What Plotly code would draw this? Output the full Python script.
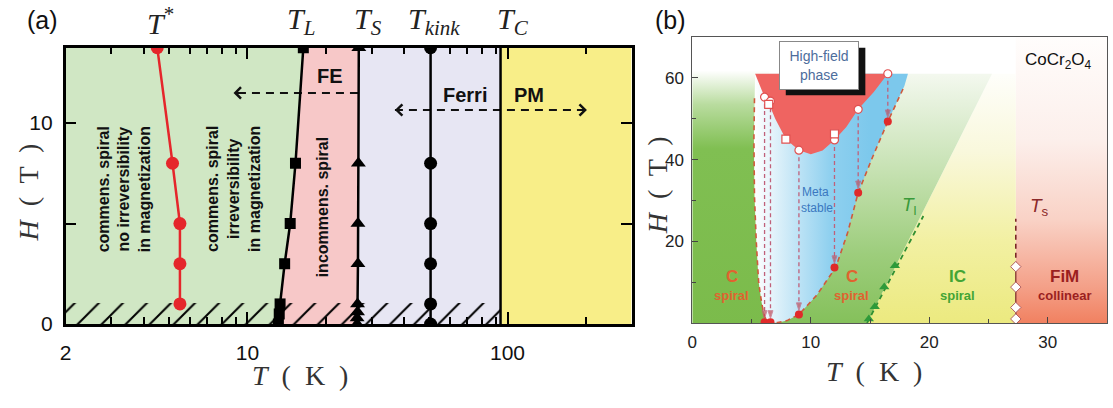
import numpy as np
import plotly.graph_objects as go

W, HT = 1113, 408

# ---------------- (a) CoCr2O4 H-T diagram, log temperature axis ----------------
tstar_T = [5.5, 5.5, 5.5, 5.15, 4.5]
tstar_H = [1, 3, 5, 8, 13.75]
tL_T = [13.15, 13.25, 13.35, 13.9, 14.6, 15.3, 16.4]
tL_H = [0, 0.5, 1, 3, 5, 8, 13.75]
tS_T = [26.4, 26.4, 26.5, 26.5, 26.6, 26.6, 26.7, 26.8]
tS_H = [0, 0.3, 0.6, 1, 3, 5, 8, 13.75]
tK_T = [50.6, 50.6, 50.6, 50.6, 50.6, 50.6]
tK_H = [0, 1, 3, 5, 8, 13.75]
tC_T = 94
a_T_range = [2, 300]
a_H_range = [0, 13.75]
hatch_top = 1.05
a_xtick_vals = [2, 10, 100]
a_xtick_text = ["2", "10", "100"]
a_xminor = [3, 4, 5, 6, 7, 8, 9, 20, 30, 40, 50, 60, 70, 80, 90, 200, 300]
a_ytick_vals = [0, 5, 10]
a_ytick_text = ["0", "", "10"]
fe_arrow_T = [26.6, 8.84]
fe_arrow_H = 11.5
pm_arrow_T = [36.9, 202]
pm_arrow_H = 10.65

# ---------------- (b) pulsed-field diagram, linear axes ----------------
b_T_range = [0, 35]
b_H_range = [0, 70]
tl_tri_T = [14.9, 15.4, 16.2, 17.1]
tl_tri_H = [1, 4, 8.8, 14]
tl_line_T = [14.75, 19.5]
tl_line_H = [0, 26.2]
tl_edge_T = [14.75, 25.3]
ts_T = 27.3
ts_pts_H = [1, 3.8, 8.8, 13.8]
ts_dash_H = [13.8, 25.5]
color_top = 61
hf_T = [5.3, 5.8, 6.1, 6.5, 7.0, 7.9, 9.0, 10.0, 11.0, 12.0, 13.0, 14.0, 15.3, 16.5]
hf_H = [61, 57.5, 55.3, 53.5, 50.0, 45.0, 42.3, 41.3, 42.2, 44.8, 48.0, 52.3, 56.5, 61.0]
ms_T = [5.25, 5.2, 5.25, 5.4, 5.6, 5.85, 6.1, 6.5, 7.2, 8.0, 9.0, 10.5, 12.1, 13.1, 14.0, 15.2, 16.5, 17.9]
ms_H = [55, 45, 31, 20, 10, 5, 1.5, 0.1, 0.1, 0.6, 2.1, 6.8, 13.6, 22, 31.9, 40.5, 49.3, 58]
ms_top_T = [5.3, 18.2]
drop_T = [6.1, 6.6, 9.0, 12.0, 14.0, 16.5]
drop_top = [55.3, 54.3, 42.3, 44.8, 52.3, 61.0]
drop_bot = [0.2, 0.2, 2.1, 13.6, 31.9, 49.3]
sq_T = [6.45, 7.9, 12.0]
sq_H = [53.5, 45.0, 46.3]

fig = go.Figure()


def px(x, y):
    return x / W, 1 - y / HT


def poly(xs, ys, color, xa="x", ya="y", **kw):
    fig.add_trace(go.Scatter(x=xs, y=ys, fill="toself", fillcolor=color, mode="lines",
                             line=dict(width=0), hoverinfo="skip", showlegend=False,
                             xaxis=xa, yaxis=ya, **kw))


def line(xs, ys, color, width, xa="x", ya="y", dash="solid", **kw):
    fig.add_trace(go.Scatter(x=xs, y=ys, mode="lines", line=dict(color=color, width=width, dash=dash),
                             hoverinfo="skip", showlegend=False, xaxis=xa, yaxis=ya, **kw))


# ---- (a) phase regions ----
top = a_H_range[1]
poly([a_T_range[0]] + tL_T + [a_T_range[0]], [0] + tL_H + [top], "#d0e7c4")
poly(tL_T + tS_T[::-1], tL_H + tS_H[::-1], "#f7c8c8")
poly(tS_T + [tC_T, tC_T], tS_H + [top, 0], "#e7e6f3")
poly([tC_T, a_T_range[1], a_T_range[1], tC_T], [0, 0, top, top], "#f8ee88")

# low-field hatched strip
fig.add_trace(go.Scatter(
    x=[a_T_range[0], tC_T, tC_T, a_T_range[0], a_T_range[0]], y=[0, 0, hatch_top, hatch_top, 0],
    fill="toself", fillcolor="rgba(0,0,0,0)", mode="lines", line=dict(width=0),
    fillpattern=dict(shape="/", fgcolor="#000000", fgopacity=1, bgcolor="rgba(0,0,0,0)",
                     size=17, solidity=0.12),
    hoverinfo="skip", showlegend=False))

# dashed field-sweep arrows
line(fe_arrow_T, [fe_arrow_H, fe_arrow_H], "#111", 2, dash="8px,6px")
line(pm_arrow_T, [pm_arrow_H, pm_arrow_H], "#111", 2, dash="8px,6px")

# T_C boundary
line([tC_T, tC_T], [0, top], "#000", 2.5)

# boundaries with data points
fig.add_trace(go.Scatter(x=tstar_T, y=tstar_H, mode="lines+markers",
                         line=dict(color="#e5262b", width=2.5),
                         marker=dict(symbol="circle", size=13, color="#e5262b"),
                         showlegend=False))
fig.add_trace(go.Scatter(x=tL_T, y=tL_H, mode="lines+markers",
                         line=dict(color="#000", width=2.5),
                         marker=dict(symbol="square", size=11, color="#000"),
                         showlegend=False))
fig.add_trace(go.Scatter(x=tS_T, y=tS_H, mode="lines+markers",
                         line=dict(color="#000", width=2.5),
                         marker=dict(symbol="triangle-up", size=13, color="#000"),
                         showlegend=False))
fig.add_trace(go.Scatter(x=tK_T, y=tK_H, mode="lines+markers",
                         line=dict(color="#000", width=2.5),
                         marker=dict(symbol="circle", size=13, color="#000"),
                         showlegend=False))

# ---- (b) phase regions with graded fills ----
B = dict(xa="x2", ya="y2")
poly([ts_T, b_T_range[1], b_T_range[1], ts_T], [0, 0, b_H_range[1], b_H_range[1]], "#f07c5c",
     fillgradient=dict(type="vertical", start=0, stop=70,
                       colorscale=[[0, "#f07a58"], [0.15, "#f4a088"], [0.38, "#f9d2c6"],
                                   [0.65, "#fcefeb"], [1, "#fffdfc"]]), **B)
poly([tl_edge_T[0], ts_T, ts_T, tl_edge_T[1]], [0, 0, color_top, color_top], "#ecea80",
     fillgradient=dict(type="vertical", start=0, stop=color_top,
                       colorscale=[[0, "#ebe97c"], [0.35, "#f2f0a2"], [0.7, "#f9f8dc"],
                                   [1, "#fefefa"]]), **B)
poly([6.5, tl_edge_T[0], tl_edge_T[1], 6.5], [0, 0, color_top, color_top], "#86c25c",
     fillgradient=dict(type="vertical", start=0, stop=color_top,
                       colorscale=[[0, "#82bf57"], [0.3, "#9dcd7c"], [0.65, "#c9e3b6"],
                                   [1, "#f3f8ee"]]), **B)
poly([0, 6.5, 6.5, 0], [0, 0, 62, 62], "#7dbd4e",
     fillgradient=dict(type="vertical", start=0, stop=62,
                       colorscale=[[0, "#7bbb4b"], [0.7, "#80bf52"], [0.87, "#b9dc9f"],
                                   [1, "#ffffff"]]), **B)
poly([ms_top_T[0]] + ms_T + [ms_top_T[1]], [color_top] + ms_H + [color_top], "#8ccdee",
     fillgradient=dict(type="horizontal", start=5.2, stop=15,
                       colorscale=[[0, "#ffffff"], [0.35, "#c2e5f6"], [0.65, "#8fd0ef"],
                                   [1, "#7cc8ec"]]), **B)
poly(hf_T + [hf_T[0]], hf_H + [color_top], "#ef6461", **B)

# metastability boundary (dashed)
line(ms_T, ms_H, "#cf5a3c", 1.6, dash="5px,4px", **B)
# T_l boundary
line(tl_line_T, tl_line_H, "#2f8f32", 1.8, dash="5px,4px", **B)
fig.add_trace(go.Scatter(x=tl_tri_T, y=tl_tri_H, mode="markers", xaxis="x2", yaxis="y2",
                         marker=dict(symbol="triangle-up", size=9, color="#2e9a3a"),
                         showlegend=False))
# T_s boundary
line([ts_T, ts_T], ts_dash_H, "#7a2626", 1.6, dash="5px,4px", **B)
line([ts_T, ts_T], [0, ts_pts_H[-1]], "#7a2626", 1.2, **B)
fig.add_trace(go.Scatter(x=[ts_T] * len(ts_pts_H), y=ts_pts_H, mode="markers", xaxis="x2", yaxis="y2",
                         marker=dict(symbol="diamond", size=8, color="white",
                                     line=dict(color="#b06060", width=1)),
                         showlegend=False))

# down-sweep drops from the high-field boundary
for t, h1, h0 in zip(drop_T, drop_top, drop_bot):
    fig.add_trace(go.Scatter(x=[t, t], y=[h1, h0], mode="lines+markers", xaxis="x2", yaxis="y2",
                             line=dict(color="#c0607a", width=1.3, dash="4px,3px"),
                             marker=dict(symbol="arrow", size=[0, 8], color="#c24a55",
                                         angleref="previous", standoff=4),
                             showlegend=False, hoverinfo="skip"))
fig.add_trace(go.Scatter(x=drop_T, y=drop_bot, mode="markers", xaxis="x2", yaxis="y2",
                         marker=dict(symbol="circle", size=8, color="#e02a2a"),
                         showlegend=False))
fig.add_trace(go.Scatter(x=drop_T, y=drop_top, mode="markers", xaxis="x2", yaxis="y2",
                         marker=dict(symbol="circle", size=8, color="white",
                                     line=dict(color="#e05050", width=1.2)),
                         showlegend=False, cliponaxis=False))
fig.add_trace(go.Scatter(x=sq_T, y=sq_H, mode="markers", xaxis="x2", yaxis="y2",
                         marker=dict(symbol="square", size=8, color="white",
                                     line=dict(color="#e05050", width=1.2)),
                         showlegend=False))

# ---------------- axes ----------------
sans = "Liberation Sans, Arial, sans-serif"
serif = "Liberation Serif, Times New Roman, serif"

fig.update_layout(
    width=W, height=HT, margin=dict(l=0, r=0, t=0, b=0),
    paper_bgcolor="white", plot_bgcolor="white", showlegend=False,
    xaxis=dict(type="log", range=[np.log10(a_T_range[0]), np.log10(a_T_range[1])],
               domain=[60 / W, 629 / W], anchor="y",
               tickvals=a_xtick_vals, ticktext=a_xtick_text, ticks="inside", ticklen=12,
               tickwidth=2, tickcolor="#000",
               minor=dict(tickvals=a_xminor, ticks="inside", ticklen=7, tickwidth=2, tickcolor="#000"),
               showline=True, linecolor="#000", linewidth=2.5, mirror="ticks",
               showgrid=False, zeroline=False, ticklabelstandoff=8,
               tickfont=dict(family=sans, size=21, color="#111")),
    yaxis=dict(range=a_H_range, domain=[(HT - 333) / HT, (HT - 49) / HT], anchor="x",
               tickvals=a_ytick_vals, ticktext=a_ytick_text, ticks="inside", ticklen=11,
               tickwidth=2, tickcolor="#000",
               showline=True, linecolor="#000", linewidth=2.5, mirror="ticks",
               showgrid=False, zeroline=False, ticklabelstandoff=6,
               tickfont=dict(family=sans, size=21, color="#111")),
    xaxis2=dict(range=b_T_range, domain=[690 / W, 1107 / W], anchor="y2",
                tickvals=[0, 10, 20, 30], ticks="inside", ticklen=6, tickwidth=1, tickcolor="#444",
                minor=dict(tickvals=[5, 15, 25], ticks="inside", ticklen=4, tickwidth=1, tickcolor="#444"),
                showline=True, linecolor="#555", linewidth=1, mirror=True,
                showgrid=False, zeroline=False, ticklabelstandoff=4,
                tickfont=dict(family=sans, size=17, color="#222")),
    yaxis2=dict(range=b_H_range, domain=[(HT - 332) / HT, (HT - 38) / HT], anchor="x2",
                tickvals=[20, 40, 60], ticks="inside", ticklen=6, tickwidth=1, tickcolor="#444",
                minor=dict(tickvals=[10, 30, 50], ticks="inside", ticklen=4, tickwidth=1, tickcolor="#444"),
                showline=True, linecolor="#555", linewidth=1, mirror=True,
                showgrid=False, zeroline=False, ticklabelstandoff=4,
                tickfont=dict(family=sans, size=17, color="#222")),
)

ann = []


def text_paper(xp, yp, s, size, family=sans, color="#111", angle=0, **kw):
    x, y = px(xp, yp)
    ann.append(dict(x=x, y=y, xref="paper", yref="paper", text=s, showarrow=False,
                    font=dict(family=family, size=size, color=color), textangle=angle,
                    xanchor="center", yanchor="middle", **kw))


def text_data(x, y, s, size, xref="x", yref="y", color="#111", bold=True, angle=0, family=sans, **kw):
    ann.append(dict(x=x, y=y, xref=xref, yref=yref, text=s, showarrow=False,
                    font=dict(family=family, size=size, color=color, weight="bold" if bold else "normal"),
                    textangle=angle, xanchor="center", yanchor="middle", align="center", **kw))


# panel letters and axis titles
text_paper(37, 21, "(a)", 25)
text_paper(668, 21, "(b)", 25)
text_paper(296, 386, "<i>T</i>  (  K  )", 28, family=serif, color="#333")
text_paper(873, 382, "<i>T</i>  (  K  )", 28, family=serif, color="#333")
text_paper(23, 198, "<i>H</i>  (  T  )", 28, family=serif, color="#333", angle=-90)
text_paper(655, 190, "<i>H</i>  (  T  )", 28, family=serif, color="#333", angle=-90)

# transition temperature headers
text_paper(155, 22, "<i>T</i><sup>*</sup>", 30, family=serif, color="#222")
text_paper(297, 22, "<i>T</i><sub><i>L</i></sub>", 30, family=serif, color="#222")
text_paper(364, 22, "<i>T</i><sub><i>S</i></sub>", 30, family=serif, color="#222")
text_paper(430, 22, "<i>T</i><sub><i>kink</i></sub>", 30, family=serif, color="#222")
text_paper(510, 22, "<i>T</i><sub><i>C</i></sub>", 30, family=serif, color="#222")

lg = np.log10
text_data(lg(3.35), 6.7, "commens. spiral<br>no irreversibility<br>in magnetization", 16, angle=-90)
text_data(lg(8.84), 6.7, "commens. spiral<br>irreversibility<br>in magnetization", 16, angle=-90)
text_data(lg(19.5), 5.85, "incommens. spiral", 16, angle=-90)
text_data(lg(20.8), 12.35, "FE", 20)
text_data(lg(68.4), 11.4, "Ferri", 20)
text_data(lg(121), 11.4, "PM", 20)

# chevron heads on the dashed arrows
for xh, yh, axp in [(fe_arrow_T[1], fe_arrow_H, 8), (pm_arrow_T[0], pm_arrow_H, 8),
                    (pm_arrow_T[1], pm_arrow_H, -8)]:
    ann.append(dict(x=lg(xh), y=yh, xref="x", yref="y", ax=axp, ay=0, text="", showarrow=True,
                    arrowhead=4, arrowsize=1.1, arrowwidth=2, arrowcolor="#111"))

# panel (b) labels
for x0, c1, c2, col in [(3.35, "C", "spiral", "#e0632f"), (13.45, "C", "spiral", "#e0632f"),
                        (22.35, "IC", "spiral", "#43a535"), (31.4, "FiM", "collinear", "#9b1f1f")]:
    text_data(x0, 11.5, c1, 17, xref="x2", yref="y2", color=col)
    text_data(x0, 6.8, c2, 13, xref="x2", yref="y2", color=col)
text_data(10.4, 32, "Meta", 12, xref="x2", yref="y2", color="#3a78c0", bold=False)
text_data(10.5, 28.2, "stable", 12, xref="x2", yref="y2", color="#3a78c0", bold=False)
text_data(18.3, 28.6, "<i>T</i><sub>l</sub>", 19, xref="x2", yref="y2", color="#3a9a3a", bold=False)
text_data(29.3, 28.3, "<i>T</i><sub>s</sub>", 19, xref="x2", yref="y2", color="#8b2a2a", bold=False)
text_data(30.9, 64, "CoCr<sub>2</sub>O<sub>4</sub>", 17, xref="x2", yref="y2", color="#111", bold=False)

# High-field phase label box with a drop shadow
bx0, by0 = px(784, 49)
bx1, by1 = px(864, 98)
fig.add_shape(type="rect", xref="paper", yref="paper", x0=bx0, x1=bx1, y0=by1, y1=by0,
              fillcolor="#111", line=dict(width=0), layer="above")
cx, cy = px(817.5, 67.5)
ann.append(dict(x=cx, y=cy, xref="paper", yref="paper", text="High-field<br>phase", showarrow=False,
                width=76, height=45, align="center", xanchor="center", yanchor="middle",
                font=dict(family=sans, size=14, color="#4d6d9c"), bgcolor="white",
                bordercolor="#888", borderwidth=1))

fig.update_layout(annotations=ann)
fig.write_html("out.html")
